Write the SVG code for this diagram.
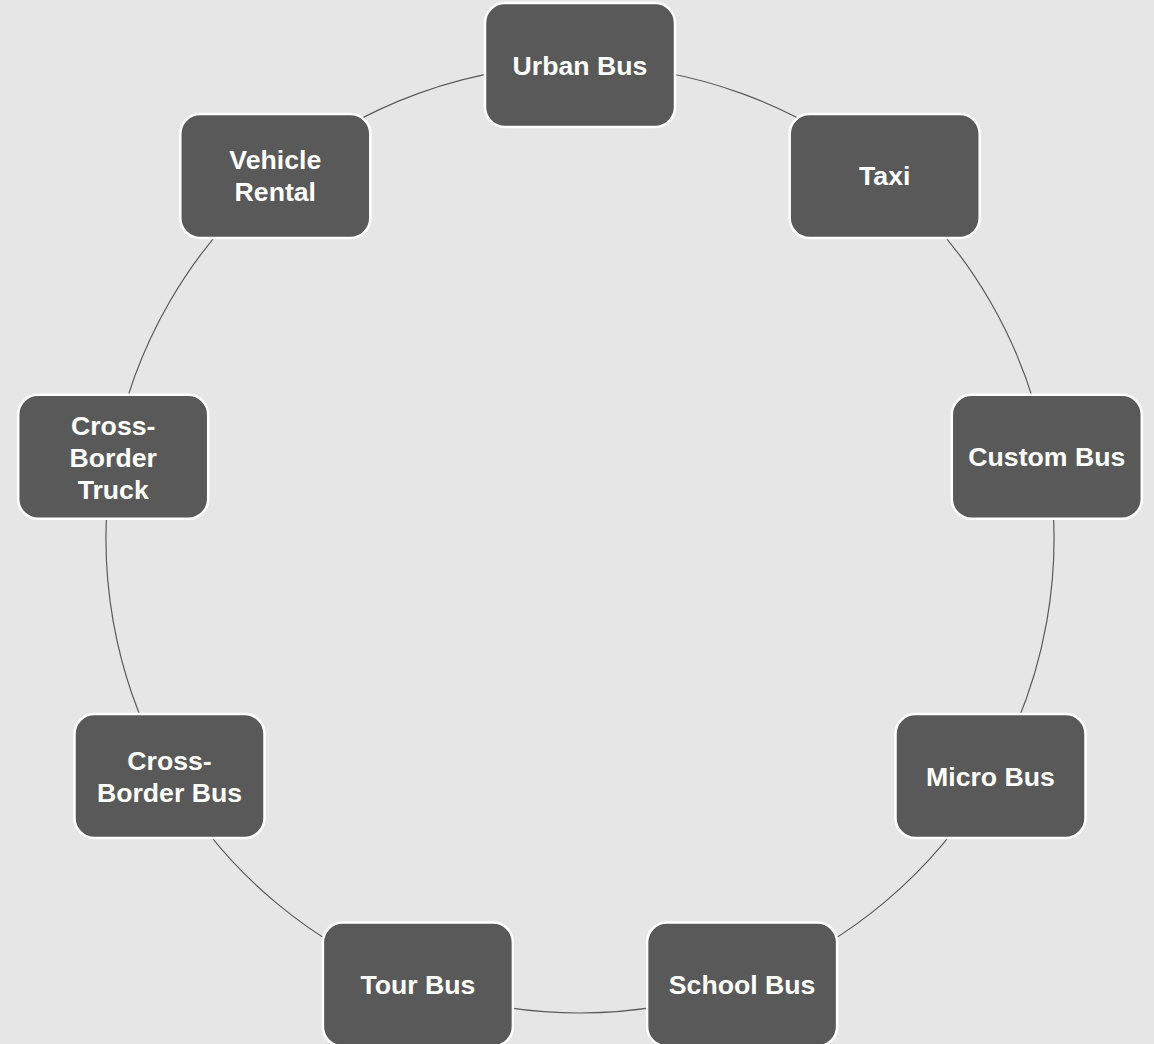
<svg xmlns="http://www.w3.org/2000/svg" width="1154" height="1044" viewBox="0 0 1154 1044">
<style>
.bg{fill:#e6e6e6}
.conn{fill:none;stroke:#5a5a5a;stroke-width:1.2}
.box{fill:#595959;stroke:#ffffff;stroke-width:2.5}
.lbl{fill:#ffffff;font-family:"Liberation Sans",Arial,sans-serif;font-weight:bold;font-size:26.67px;text-anchor:middle}
</style>
<rect class="bg" x="0" y="0" width="1154" height="1044"/>
<g id="connectors">
<path class="conn" d="M580,65 A474,474 0 0 1 884.7,175.9"/>
<path class="conn" d="M884.7,175.9 A474,474 0 0 1 1046.8,456.7"/>
<path class="conn" d="M1046.8,456.7 A474,474 0 0 1 990.5,776"/>
<path class="conn" d="M990.5,776 A474,474 0 0 1 742.1,984.4"/>
<path class="conn" d="M742.1,984.4 A474,474 0 0 1 417.9,984.4"/>
<path class="conn" d="M417.9,984.4 A474,474 0 0 1 169.5,776"/>
<path class="conn" d="M169.5,776 A474,474 0 0 1 113.2,456.7"/>
<path class="conn" d="M113.2,456.7 A474,474 0 0 1 275.3,175.9"/>
<path class="conn" d="M275.3,175.9 A474,474 0 0 1 580,65"/>
</g>
<g id="urban-bus">
<rect class="box" x="485" y="3" width="190" height="124" rx="20"/>
<text class="lbl" x="580" y="74.5">Urban Bus</text>
</g>
<g id="taxi">
<rect class="box" x="789.7" y="113.9" width="190" height="124" rx="20"/>
<text class="lbl" x="884.7" y="185.4">Taxi</text>
</g>
<g id="custom-bus">
<rect class="box" x="951.8" y="394.7" width="190" height="124" rx="20"/>
<text class="lbl" x="1046.8" y="466.2">Custom Bus</text>
</g>
<g id="micro-bus">
<rect class="box" x="895.5" y="714" width="190" height="124" rx="20"/>
<text class="lbl" x="990.5" y="785.5">Micro Bus</text>
</g>
<g id="school-bus">
<rect class="box" x="647.1" y="922.4" width="190" height="124" rx="20"/>
<text class="lbl" x="742.1" y="993.9">School Bus</text>
</g>
<g id="tour-bus">
<rect class="box" x="322.9" y="922.4" width="190" height="124" rx="20"/>
<text class="lbl" x="417.9" y="993.9">Tour Bus</text>
</g>
<g id="cross-border-bus">
<rect class="box" x="74.5" y="714" width="190" height="124" rx="20"/>
<text class="lbl" x="169.5" y="769.5">Cross-</text>
<text class="lbl" x="169.5" y="801.5">Border Bus</text>
</g>
<g id="cross-border-truck">
<rect class="box" x="18.2" y="394.7" width="190" height="124" rx="20"/>
<text class="lbl" x="113.2" y="434.5">Cross-</text>
<text class="lbl" x="113.2" y="466.5">Border</text>
<text class="lbl" x="113.2" y="498.5">Truck</text>
</g>
<g id="vehicle-rental">
<rect class="box" x="180.3" y="113.9" width="190" height="124" rx="20"/>
<text class="lbl" x="275.3" y="169.4">Vehicle</text>
<text class="lbl" x="275.3" y="201.4">Rental</text>
</g>
</svg>
